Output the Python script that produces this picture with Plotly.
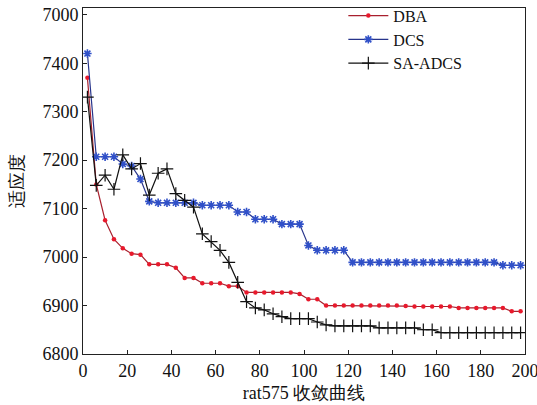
import plotly.graph_objects as go

iterations = list(range(2, 200, 4))

dba = [7370, 7150, 7076, 7037, 7018, 7007, 7005, 6985, 6985, 6985,
       6978, 6957, 6957, 6946, 6946, 6946, 6940, 6940, 6927, 6927,
       6927, 6927, 6927, 6927, 6924, 6913, 6913, 6900,
       6900, 6900, 6900, 6900, 6900, 6900, 6900, 6900, 6899,
       6898, 6898, 6898, 6898, 6898,
       6895, 6895, 6895, 6895, 6895, 6895,
       6888, 6888]

dcs = [7420, 7207, 7207, 7207, 7192, 7188, 7161, 7115,
       7112, 7112, 7112, 7112, 7112,
       7107, 7107, 7107, 7107,
       7093, 7093,
       7078, 7078, 7078,
       7068, 7068, 7068,
       7024,
       7014, 7014, 7014, 7014,
       6989, 6989, 6989, 6989, 6989, 6989, 6989, 6989, 6989, 6989,
       6989, 6989, 6989, 6989, 6989, 6989, 6989,
       6983, 6983, 6983]

sa_adcs = [7330, 7148, 7169, 7140, 7211, 7182, 7193, 7128, 7173, 7182,
           7131, 7117, 7103, 7048, 7032, 7014, 6989, 6948, 6908, 6895,
           6891, 6883, 6877, 6873, 6873, 6873, 6866, 6860,
           6858, 6858, 6858, 6858, 6858,
           6854, 6854, 6854, 6854, 6854,
           6850, 6850,
           6844, 6844, 6844, 6844, 6844, 6844, 6844, 6844, 6844, 6844]

y_tickvals = [6800, 6900, 7000, 7100, 7200, 7300, 7400, 7500]
y_ticktext = ["6800", "6900", "7000", "7100", "7200", "7300", "7400", "7000"]
x_tickvals = [0, 20, 40, 60, 80, 100, 120, 140, 160, 180, 200]

FONT = "Liberation Serif"

fig = go.Figure()
fig.add_trace(go.Scatter(
    x=iterations, y=dba, name="DBA", mode="lines+markers",
    line=dict(color="#a8202e", width=1.2),
    marker=dict(symbol="circle", size=4.5, color="#e8192c"),
))
fig.add_trace(go.Scatter(
    x=iterations, y=dcs, name="DCS", mode="lines+markers",
    line=dict(color="#27348b", width=1.2),
    marker=dict(symbol="asterisk-open", size=7, color="#3050c8",
                line=dict(color="#3050c8", width=1.6)),
))
fig.add_trace(go.Scatter(
    x=iterations, y=sa_adcs, name="SA-ADCS", mode="lines+markers",
    line=dict(color="#111111", width=1.2),
    marker=dict(symbol="cross-thin-open", size=9, color="#111111",
                line=dict(color="#111111", width=1.2)),
))

fig.update_layout(
    width=537, height=405,
    margin=dict(l=83, r=12, t=8, b=51, autoexpand=False),
    paper_bgcolor="white", plot_bgcolor="white",
    font=dict(family=FONT, size=18, color="#111111"),
    showlegend=True,
    legend=dict(x=0.589, y=1.027, xanchor="left", yanchor="top",
                bgcolor="rgba(0,0,0,0)", borderwidth=0,
                font=dict(family=FONT, size=16),
                tracegroupgap=0, itemwidth=40),
)
fig.update_xaxes(
    range=[0, 200], tickvals=x_tickvals, automargin=False,
    showgrid=False, zeroline=False,
    showline=True, linecolor="#222222", linewidth=1, mirror=True,
    ticks="inside", ticklen=4, tickcolor="#222222",
    ticklabeloverflow="allow",
    tickfont=dict(family=FONT, size=18),
    title=dict(text="rat575 收敛曲线", font=dict(family=FONT, size=18), standoff=6),
)
fig.update_yaxes(
    range=[6800, 7514], tickvals=y_tickvals, ticktext=y_ticktext, automargin=False,
    showgrid=False, zeroline=False,
    showline=True, linecolor="#222222", linewidth=1, mirror=True,
    ticks="inside", ticklen=4, tickcolor="#222222",
    ticklabeloverflow="allow",
    tickfont=dict(family=FONT, size=18),
    title=dict(text="适应度", font=dict(family=FONT, size=18), standoff=14),
)

fig.write_html(
    "out.html",
    config={"displayModeBar": False},
    post_script="document.body.style.margin='0px';document.body.style.overflow='hidden';",
)
